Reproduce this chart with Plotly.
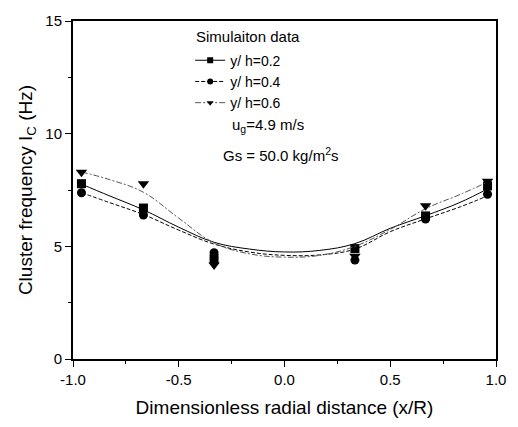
import plotly.graph_objects as go

# measured points
x_pts = [-0.96, -0.667, -0.333, 0.333, 0.667, 0.96]
y02 = [7.78, 6.70, 4.45, 4.90, 6.35, 7.68]
y04 = [7.38, 6.39, 4.72, 4.39, 6.21, 7.31]
y06 = [8.29, 7.78, 4.17, 4.56, 6.80, 7.89]

# fitted curves
x_fit = [-0.96, -0.83, -0.667, -0.5, -0.333, -0.167, 0.0, 0.167, 0.333, 0.5, 0.667, 0.83, 0.96]
f02 = [7.76, 7.25, 6.62, 5.85, 5.18, 4.88, 4.75, 4.82, 5.12, 5.80, 6.36, 6.95, 7.55]
f04 = [7.38, 6.95, 6.41, 5.72, 5.10, 4.75, 4.60, 4.62, 4.88, 5.65, 6.22, 6.75, 7.24]
f06 = [8.30, 7.97, 7.40, 6.25, 5.15, 4.67, 4.52, 4.60, 5.00, 5.75, 6.67, 7.30, 7.85]

labels = ["y/ h=0.2", "y/ h=0.4", "y/ h=0.6"]
symbols = ["square", "circle", "triangle-down"]
dashes = ["solid", "4px,2px", "6px,2px,2px,2px"]
colors = ["#000000", "#000000", "#555555"]

fig = go.Figure()
for lab, sym, dsh, col, yp, yf in zip(labels, symbols, dashes, colors, [y02, y04, y06], [f02, f04, f06]):
    fig.add_trace(go.Scatter(x=x_fit, y=yf, mode="lines",
                             line=dict(color=col, width=1, dash=dsh, shape="spline", smoothing=1.1),
                             showlegend=False))
    fig.add_trace(go.Scatter(x=x_pts, y=yp, mode="markers",
                             marker=dict(symbol=sym, size=9 if sym != "triangle-down" else 10, color="black"),
                             showlegend=False))
    fig.add_trace(go.Scatter(x=[None], y=[None], mode="lines+markers", name=lab,
                             line=dict(color=col, width=1, dash=dsh),
                             marker=dict(symbol=sym, size=6, color="black")))

font = "Liberation Sans, Arial, sans-serif"
fig.update_layout(
    width=518, height=427,
    margin=dict(l=73, r=20, t=18, b=67),
    paper_bgcolor="white", plot_bgcolor="white",
    font=dict(family=font, size=15, color="black"),
    legend=dict(x=0.277, y=0.93, xanchor="left", yanchor="top",
                font=dict(size=14), bgcolor="rgba(0,0,0,0)",
                tracegroupgap=0, itemwidth=30),
    xaxis=dict(range=[-1, 1], tickvals=[-1, -0.5, 0, 0.5, 1],
               ticktext=["-1.0", "-0.5", "0.0", "0.5", "1.0"],
               showline=True, linecolor="black", linewidth=2, mirror=True,
               ticks="outside", ticklen=6, tickwidth=1, tickcolor="black",
               minor=dict(tickvals=[-0.75, -0.25, 0.25, 0.75], ticks="outside", ticklen=3, tickcolor="black"),
               showgrid=False, zeroline=False,
               title=dict(text="Dimensionless radial distance (x/R)", font=dict(size=19), standoff=14),
               tickfont=dict(size=15)),
    yaxis=dict(range=[0, 15], tickvals=[0, 5, 10, 15],
               showline=True, linecolor="black", linewidth=2, mirror=True,
               ticks="outside", ticklen=6, tickwidth=1, tickcolor="black",
               minor=dict(tickvals=[2.5, 7.5, 12.5], ticks="outside", ticklen=3, tickcolor="black"),
               showgrid=False, zeroline=False,
               title=dict(text="Cluster frequency I<sub>C</sub> (Hz)", font=dict(size=19), standoff=8),
               tickfont=dict(size=15)),
)
fig.add_annotation(x=0.287, y=0.955, xref="paper", yref="paper", xanchor="left", yanchor="middle",
                   text="Simulaiton data", showarrow=False, font=dict(size=15))
fig.add_annotation(x=0.372, y=0.69, xref="paper", yref="paper", xanchor="left", yanchor="middle",
                   text="u<sub>g</sub>=4.9 m/s", showarrow=False, font=dict(size=15))
fig.add_annotation(x=0.35, y=0.605, xref="paper", yref="paper", xanchor="left", yanchor="middle",
                   text="Gs = 50.0 kg/m<sup>2</sup>s", showarrow=False, font=dict(size=15))

fig.write_html("out.html")
